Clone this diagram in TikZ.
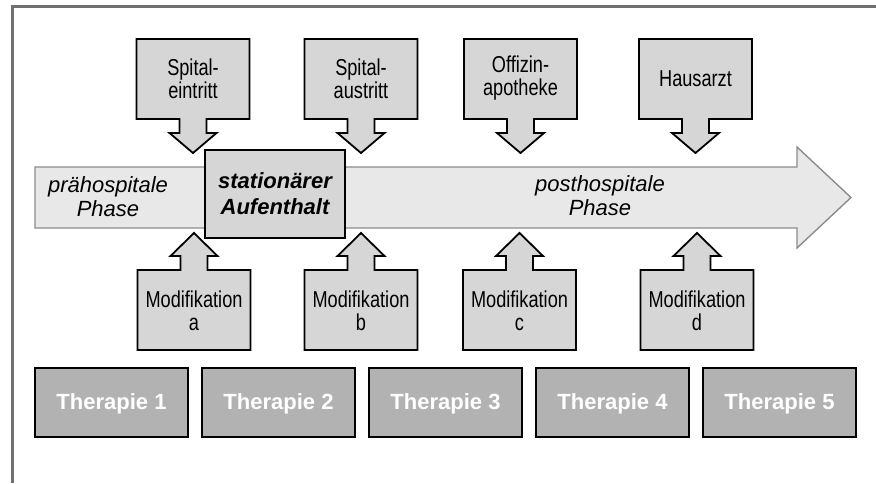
\documentclass[tikz,border=0pt]{standalone}
\usepackage{fontspec}
\setmainfont{Liberation Sans}
\newfontfamily\condfont[FakeStretch=0.79]{Liberation Sans}
\definecolor{boxgray}{HTML}{D6D6D6}
\definecolor{bandgray}{HTML}{E8E8E8}
\definecolor{bandline}{HTML}{8C8C8C}
\definecolor{thergray}{HTML}{B2B2B2}
\definecolor{framegray}{HTML}{707070}
\newcommand\calldown[3]{%
  \draw[callbox] (#1-56.5,39) -- (#1+56.5,39) -- (#1+56.5,119) -- (#1+13.5,119)
    -- (#1+13.5,133) -- (#1+23.5,133) -- (#1,153) -- (#1-23.5,133) -- (#1-13.5,133)
    -- (#1-13.5,119) -- (#1-56.5,119) -- cycle;
  \node[condtext] (#2) at (#1,78.5) {#3};}
\newcommand\callup[3]{%
  \draw[callbox] (#1-56.5,350) -- (#1+56.5,350) -- (#1+56.5,270) -- (#1+13.5,270)
    -- (#1+13.5,256) -- (#1+23.5,256) -- (#1,233) -- (#1-23.5,256) -- (#1-13.5,256)
    -- (#1-13.5,270) -- (#1-56.5,270) -- cycle;
  \node[condtext] (#2) at (#1,310.5) {#3};}
\begin{document}
\begin{tikzpicture}[x=1pt,y=-1pt,
  callbox/.style={draw=black, line width=1.8pt, fill=boxgray, line join=miter},
  condtext/.style={align=center, inner sep=0pt, font=\condfont\fontsize{23}{23}\selectfont},
  phasetext/.style={align=center, inner sep=0pt, font=\itshape\fontsize{22}{24}\selectfont},
  therbox/.style={draw=black, line width=1.8pt, fill=thergray, minimum width=153pt,
    minimum height=69pt, inner sep=0pt},
  thertext/.style={text=white, font=\bfseries\fontsize{22}{24}\selectfont, inner sep=0pt, anchor=base}]
\useasboundingbox (0,0) rectangle (876,483);
\draw[framegray, line width=3pt] (876,6.5) -- (12,6.5) -- (12,483);
% main band arrow
\draw[draw=bandline, fill=bandgray, line width=1.4pt]
  (35,167) -- (797,167) -- (797,147) -- (851,197.5) -- (797,248) -- (797,228) -- (35,228) -- cycle;
\node[phasetext] (pre) at (108,197) {prähospitale\\Phase};
\node[phasetext] (post) at (600,195.5) {posthospitale\\Phase};
% stationary stay
\node[draw=black, line width=1.8pt, fill=boxgray, minimum width=140pt, minimum height=88pt,
  align=center, font=\bfseries\itshape\fontsize{22}{26}\selectfont] (stat) at (275,194) {stationärer\\Aufenthalt};
% top callouts
\calldown{193}{ein}{Spital-\\eintritt}
\calldown{361}{aus}{Spital-\\austritt}
\calldown{520.5}{apo}{Offizin-\\apotheke}
\calldown{695.5}{arzt}{Hausarzt}
% bottom callouts
\callup{194}{moda}{Modifikation\\a}
\callup{361}{modb}{Modifikation\\b}
\callup{519.5}{modc}{Modifikation\\c}
\callup{697}{modd}{Modifikation\\d}
% therapies
\foreach \i/\x in {1/111.5,2/278.5,3/445.5,4/612.5,5/779.5}{
  \node[therbox] (t\i) at (\x,402.5) {};
  \node[thertext] (tt\i) at (\x,409) {Therapie \i};
}
\end{tikzpicture}
\end{document}
